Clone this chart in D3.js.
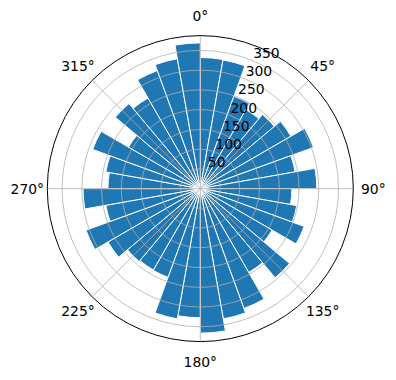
<!DOCTYPE html>
<html>
<head>
<meta charset="utf-8">
<script src="https://cdn.jsdelivr.net/npm/d3@7"></script>
<style>
  html, body { margin: 0; padding: 0; background: #fff; }
  svg { display: block; font-family: "DejaVu Sans", sans-serif; }
</style>
</head>
<body>
<svg width="396" height="380"></svg>
<script>
let width = 396;
let height = 380;

// histogram counts, one bar per 10 degree bin, clockwise from north
let binStarts = d3.range(0, 360, 10);
let counts = [
  332, 331, 249, 231, 245, 265, 305, 244, 295,
  232, 248, 280, 210, 295, 245, 323, 335, 366,
  327, 335, 239, 238, 241, 270, 308, 243, 297,
  234, 243, 290, 210, 281, 265, 318, 334, 369
];
let rTicks = [50, 100, 150, 200, 250, 300, 350];
let thetaTicks = [0, 45, 90, 135, 180, 225, 270, 315];

let cx = 200.3;
let cy = 188.6;
let radius = 153;

let r = d3.scaleLinear()
  .domain([0, d3.max(counts) * 1.05])
  .range([0, radius]);

let theta = d3.scaleLinear()
  .domain([0, 360])
  .range([0, 2 * Math.PI]);

let svg = d3.select('svg');

let g = svg.append('g')
  .attr('transform', `translate(${cx},${cy})`);

let arc = d3.arc()
  .innerRadius(0)
  .outerRadius(d => r(d.v))
  .startAngle(d => theta(d.a))
  .endAngle(d => theta(d.a + 10));

g.append('g')
  .attr('id', 'bars')
  .selectAll('path')
  .data(binStarts.map((a, i) => ({a: a, v: counts[i]})))
  .enter()
    .append('path')
    .attr('d', arc)
    .attr('fill', '#1f77b4')
    .attr('stroke', '#fff')
    .attr('stroke-width', 1)
  ;

// grid goes on top of the bars, like matplotlib's polar default
g.append('g')
  .attr('id', 'rgrid')
  .selectAll('circle')
  .data(rTicks)
  .enter()
    .append('circle')
    .attr('r', d => r(d))
    .attr('fill', 'none')
    .attr('stroke', '#b0b0b0')
    .attr('stroke-width', 0.8)
  ;

g.append('g')
  .attr('id', 'tgrid')
  .selectAll('line')
  .data(thetaTicks)
  .enter()
    .append('line')
    .attr('x1', 0)
    .attr('y1', 0)
    .attr('x2', d => radius * Math.sin(theta(d)))
    .attr('y2', d => -radius * Math.cos(theta(d)))
    .attr('stroke', '#b0b0b0')
    .attr('stroke-width', 0.8)
  ;

g.append('circle')
  .attr('r', radius)
  .attr('fill', 'none')
  .attr('stroke', '#000')
  .attr('stroke-width', 1)
  ;

g.append('g')
  .attr('id', 'tlabels')
  .selectAll('text')
  .data(thetaTicks)
  .enter()
    .append('text')
    .attr('x', d => (radius + 20) * Math.sin(theta(d)))
    .attr('y', d => -(radius + 20) * Math.cos(theta(d)))
    .attr('text-anchor', 'middle')
    .attr('dominant-baseline', 'central')
    .attr('font-size', '13.9px')
    .attr('fill', '#000')
    .text(d => d + '°')
  ;

let rAngle = theta(22.5);

g.append('g')
  .attr('id', 'rlabels')
  .selectAll('text')
  .data(rTicks)
  .enter()
    .append('text')
    .attr('x', d => r(d) * Math.sin(rAngle))
    .attr('y', d => -r(d) * Math.cos(rAngle) - 3)
    .attr('text-anchor', 'start')
    .attr('font-size', '13.9px')
    .attr('fill', '#000')
    .text(d => d)
  ;
</script>
</body>
</html>
